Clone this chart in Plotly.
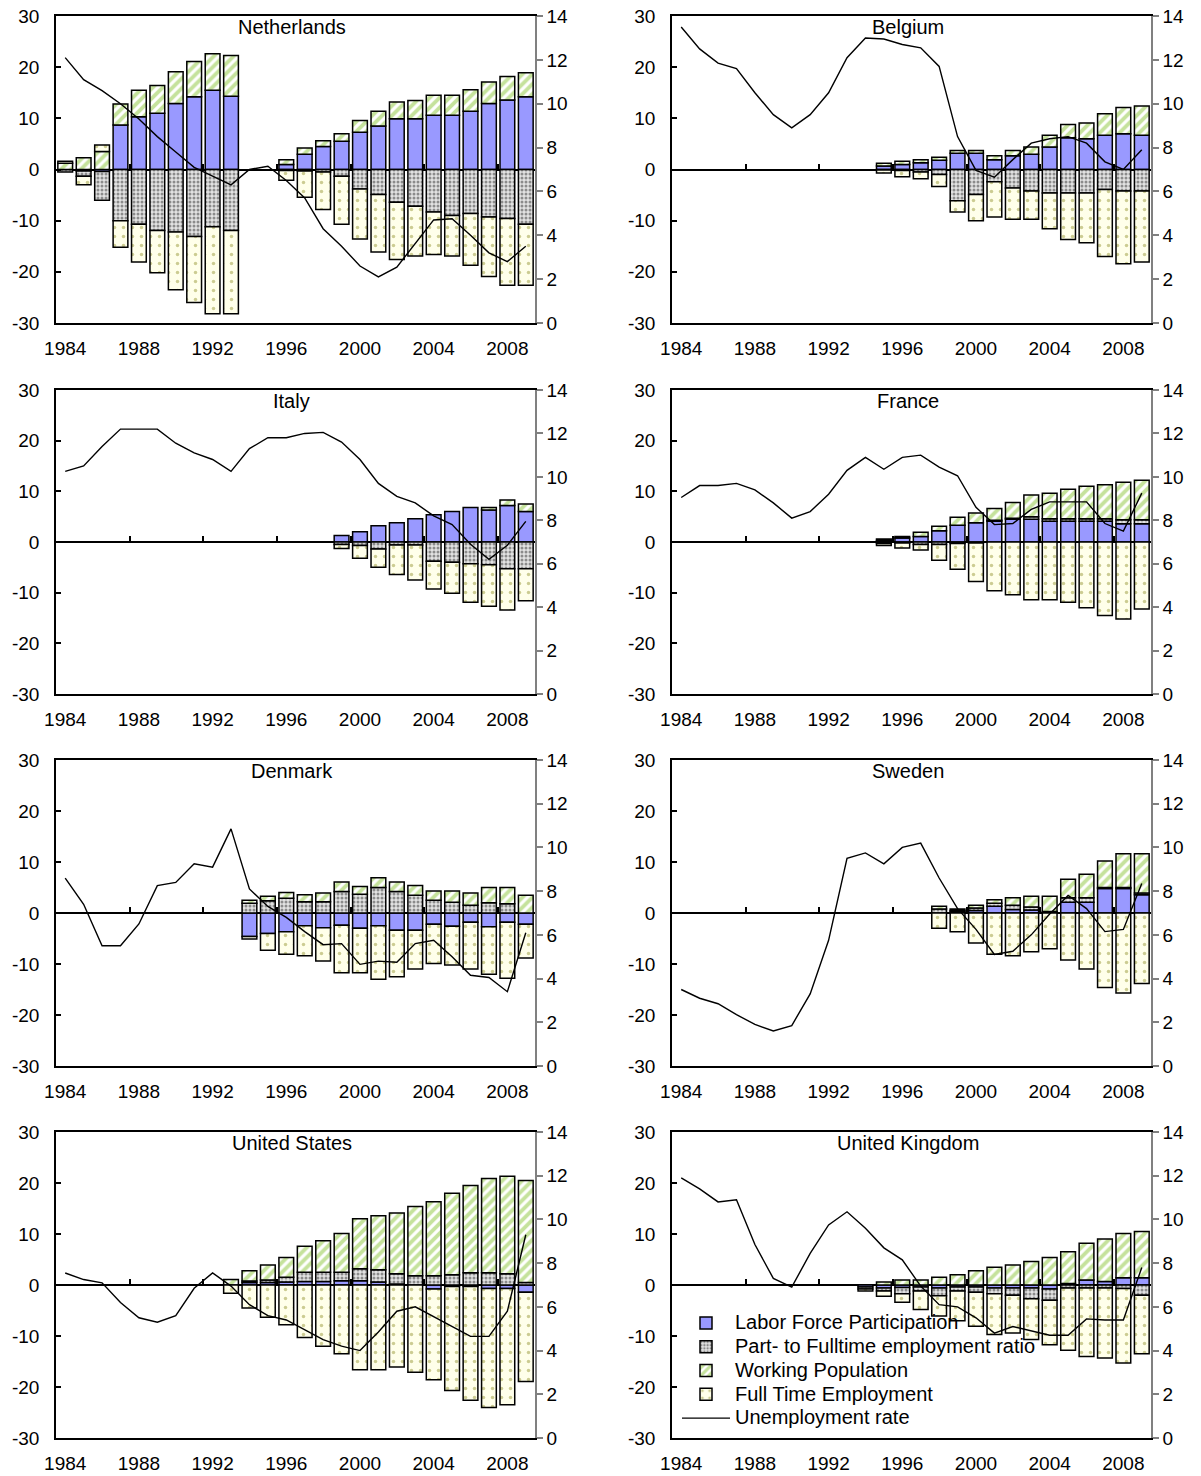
import plotly.graph_objects as go

years = list(range(1984, 2010))
tick_years = [1984, 1988, 1992, 1996, 2000, 2004, 2008]
zero_ticks = [1987.5, 1991.5, 1995.5, 1999.5, 2003.5, 2007.5]
left_tick_vals = [-30, -20, -10, 0, 10, 20, 30]
left_tick_text = ["-30", "-20", "-10", "0", "10", "20", "30"]

countries = ["Netherlands", "Belgium", "Italy", "France",
             "Denmark", "Sweden", "United States", "United Kingdom"]
series_names = ["Labor Force Participation", "Part- to Fulltime employment ratio",
                "Working Population", "Full Time Employment"]
line_name = "Unemployment rate"

# ---------------- Netherlands ----------------
nl_lfp = [None, -0.3, -0.4, 8.7, 10.3, 11.0, 12.9, 14.2, 15.5, 14.3, None, None, 1.0, 3.0, 4.5, 5.5, 7.3, 8.5, 9.9, 9.9, 10.6, 10.6, 11.4, 12.9, 13.6, 14.2]
nl_ratio = [-0.5, -1.0, -5.6, -10.0, -10.7, -11.9, -12.2, -13.1, -11.2, -11.9, None, None, -0.2, -0.3, -0.5, -1.3, -3.8, -4.9, -6.4, -7.2, -8.3, -9.0, -8.6, -9.3, -9.6, -10.7]
nl_wp = [1.2, 2.3, 3.5, 4.1, 5.2, 5.4, 6.2, 6.9, 7.1, 8.0, None, None, 0.9, 1.2, 1.1, 1.5, 2.3, 2.9, 3.3, 3.6, 3.9, 3.9, 4.2, 4.2, 4.6, 4.7]
nl_fte = [0.4, -1.7, 1.3, -5.2, -7.4, -8.3, -11.3, -12.9, -17.0, -16.3, None, None, -1.9, -5.1, -7.3, -9.4, -9.8, -11.2, -11.2, -9.7, -8.3, -7.9, -10.1, -11.6, -13.0, -11.9]
nl_unemp = [12.1, 11.1, 10.6, 10.0, 9.3, 8.5, 7.8, 7.1, 6.7, 6.3, 7.0, 7.15, 6.5, 5.7, 4.3, 3.5, 2.6, 2.1, 2.55, 3.6, 4.7, 4.75, 4.0, 3.2, 2.8, 3.5]

# ---------------- Belgium ----------------
be_lfp = [None] * 11 + [0.7, 1.0, 1.3, 1.8, 3.2, 3.2, 1.9, 2.7, 3.0, 4.4, 6.2, 6.0, 6.7, 7.0, 6.7]
be_ratio = [None] * 11 + [-0.1, -0.2, -0.5, -1.0, -6.1, -4.9, -2.4, -3.6, -4.2, -4.6, -4.6, -4.6, -3.9, -4.2, -4.2]
be_wp = [None] * 11 + [0.5, 0.6, 0.6, 0.6, 0.5, 0.5, 0.8, 1.0, 1.4, 2.3, 2.6, 3.1, 4.2, 5.1, 5.7]
be_fte = [None] * 11 + [-0.6, -1.2, -1.3, -2.3, -2.2, -5.1, -6.9, -6.1, -5.5, -7.0, -9.1, -9.7, -13.1, -14.2, -13.9]
be_unemp = [13.5, 12.5, 11.85, 11.6, 10.5, 9.5, 8.9, 9.5, 10.5, 12.1, 13.0, 12.95, 12.7, 12.55, 11.7, 8.5, 6.96, 6.65, 7.45, 8.2, 8.4, 8.5, 8.2, 7.35, 7.0, 7.9]

# ---------------- Italy ----------------
it_lfp = [None] * 15 + [1.3, 2.0, 3.2, 3.8, 4.6, 5.4, 6.0, 6.8, 6.3, 7.2, 6.0]
it_ratio = [None] * 15 + [-0.5, -0.7, -1.4, -0.6, -0.6, -3.8, -4.0, -4.3, -4.5, -5.3, -5.3]
it_wp = [None] * 15 + [None, None, None, None, None, None, None, None, 0.5, 1.1, 1.5]
it_fte = [None] * 15 + [-0.8, -2.5, -3.6, -5.8, -6.9, -5.5, -6.1, -7.6, -8.2, -8.1, -6.3]
it_unemp = [10.25, 10.5, 11.4, 12.2, 12.2, 12.2, 11.55, 11.1, 10.8, 10.25, 11.3, 11.8, 11.8, 12.0, 12.05, 11.6, 10.8, 9.7, 9.1, 8.8, 8.2, 7.8, 6.9, 6.2, 6.85, 7.95]

# ---------------- France ----------------
fr_lfp = [None] * 11 + [0.3, 0.8, 1.1, 2.2, 3.3, 3.8, 4.1, 4.5, 4.5, 4.1, 4.1, 4.1, 4.1, 3.6, 3.6]
fr_ratio = [None] * 11 + [-0.3, -0.2, -0.5, -0.5, -0.3, -0.2, 0.2, 0.2, 0.5, 0.5, 0.5, 0.5, 0.5, 0.8, 0.8]
fr_wp = [None] * 11 + [0.3, 0.3, 0.8, 0.9, 1.6, 1.9, 2.3, 3.1, 4.3, 5.0, 5.8, 6.4, 6.7, 7.4, 7.8]
fr_fte = [None] * 11 + [-0.4, -1.0, -1.1, -3.1, -5.1, -7.6, -9.6, -10.4, -11.4, -11.4, -11.9, -13.0, -14.5, -15.2, -13.2]
fr_unemp = [9.05, 9.6, 9.6, 9.7, 9.4, 8.8, 8.1, 8.4, 9.2, 10.3, 10.9, 10.35, 10.9, 11.0, 10.45, 10.05, 8.6, 7.8, 7.85, 8.5, 8.85, 8.85, 8.85, 7.85, 7.5, 9.25]

# ---------------- Denmark ----------------
dk_lfp = [None] * 10 + [-4.6, -4.0, -3.7, -2.5, -2.9, -2.4, -3.0, -2.5, -3.4, -3.4, -2.2, -2.6, -1.8, -2.7, -1.8, -2.2]
dk_ratio = [None] * 10 + [1.9, 2.4, 2.9, 2.2, 2.2, 4.2, 3.7, 5.0, 4.2, 3.5, 2.5, 2.1, 1.5, 2.0, 1.8, None]
dk_wp = [None] * 10 + [0.6, 0.9, 1.1, 1.4, 1.7, 1.9, 1.5, 1.9, 1.9, 1.9, 1.8, 2.2, 2.4, 3.0, 3.2, 3.5]
dk_fte = [None] * 10 + [-0.5, -3.3, -4.4, -5.9, -6.5, -9.3, -8.7, -10.5, -9.1, -7.6, -7.7, -7.6, -9.2, -9.3, -11.0, -6.6]
dk_unemp = [8.6, 7.4, 5.5, 5.5, 6.5, 8.25, 8.4, 9.25, 9.1, 10.85, 8.1, 7.3, 6.8, 6.15, 5.55, 5.6, 4.65, 4.8, 4.75, 5.6, 5.75, 5.0, 4.15, 4.05, 3.4, 6.1]

# ---------------- Sweden ----------------
se_lfp = [None] * 14 + [None, 0.3, 0.5, 1.3, 0.7, 0.6, 0.3, 2.1, 2.1, 4.8, 4.8, 3.6]
se_ratio = [None] * 14 + [0.8, 0.2, 0.5, 0.6, 0.8, 0.6, None, 0.9, 0.9, 0.2, 0.2, 0.3]
se_wp = [None] * 14 + [0.5, 0.3, 0.5, 0.7, 1.5, 2.1, 3.0, 3.6, 4.6, 5.2, 6.6, 7.7]
se_fte = [None] * 14 + [-3.0, -3.7, -5.9, -8.1, -8.4, -7.6, -7.0, -9.2, -11.0, -14.6, -15.7, -13.8]
se_unemp = [3.5, 3.1, 2.85, 2.35, 1.9, 1.6, 1.85, 3.3, 5.75, 9.5, 9.75, 9.25, 10.0, 10.2, 8.6, 7.2, 6.25, 5.1, 5.25, 6.0, 6.95, 7.8, 7.2, 6.15, 6.25, 8.35]

# ---------------- United States ----------------
us_lfp = [None] * 9 + [None, 0.5, 0.5, 0.6, 0.7, 0.7, 0.85, 0.85, 0.6, 0.2, None, -0.8, -0.3, -0.3, -0.7, -0.7, -1.4]
us_ratio = [None] * 9 + [None, 0.3, 0.5, 0.9, 1.8, 1.8, 1.65, 2.35, 2.4, 2.0, 1.8, 1.8, 2.0, 2.4, 2.4, 2.2, 0.5]
us_wp = [None] * 9 + [1.1, 2.0, 2.9, 3.9, 5.1, 6.2, 7.6, 9.8, 10.6, 11.9, 13.6, 14.5, 16.0, 17.1, 18.5, 19.1, 20.0]
us_fte = [None] * 9 + [-1.6, -4.5, -6.3, -7.8, -10.3, -12.0, -13.5, -16.6, -16.6, -16.1, -17.1, -17.8, -20.4, -22.3, -23.3, -22.8, -17.5]
us_unemp = [7.55, 7.25, 7.1, 6.2, 5.5, 5.3, 5.6, 6.85, 7.55, 6.95, 6.1, 5.6, 5.4, 4.95, 4.5, 4.2, 4.0, 4.85, 5.8, 6.0, 5.55, 5.1, 4.65, 4.65, 5.8, 9.3]

# ---------------- United Kingdom ----------------
uk_lfp = [None] * 10 + [-0.4, -0.6, -0.5, -0.4, -0.6, -0.4, -0.4, -0.6, -0.6, -0.6, -0.8, 0.3, 1.0, 0.7, 1.4, 1.4]
uk_ratio = [None] * 10 + [-0.4, -0.6, -1.2, -0.8, -1.5, -0.8, -1.0, -1.1, -1.4, -2.1, -2.2, -0.6, -0.6, -0.6, -0.7, -2.0]
uk_wp = [None] * 10 + [None, 0.6, 1.0, 1.0, 1.5, 2.0, 2.8, 3.5, 3.9, 4.6, 5.4, 6.2, 7.2, 8.3, 8.7, 9.1]
uk_fte = [None] * 10 + [-0.4, -1.0, -1.7, -3.6, -4.0, -5.8, -6.7, -8.0, -7.4, -8.0, -8.7, -12.2, -13.4, -13.7, -14.6, -11.5]
uk_unemp = [11.9, 11.4, 10.8, 10.9, 8.85, 7.3, 6.9, 8.45, 9.75, 10.35, 9.6, 8.7, 8.15, 6.95, 6.1, 6.0, 5.5, 4.8, 5.1, 4.9, 4.7, 4.7, 5.45, 5.4, 5.4, 7.8]

panels = [
    (nl_lfp, nl_ratio, nl_wp, nl_fte, nl_unemp),
    (be_lfp, be_ratio, be_wp, be_fte, be_unemp),
    (it_lfp, it_ratio, it_wp, it_fte, it_unemp),
    (fr_lfp, fr_ratio, fr_wp, fr_fte, fr_unemp),
    (dk_lfp, dk_ratio, dk_wp, dk_fte, dk_unemp),
    (se_lfp, se_ratio, se_wp, se_fte, se_unemp),
    (us_lfp, us_ratio, us_wp, us_fte, us_unemp),
    (uk_lfp, uk_ratio, uk_wp, uk_fte, uk_unemp),
]

# ---------------- styles ----------------
outline = dict(color="black", width=1.5)
bar_styles = [
    dict(color="#9999FF", line=outline),
    dict(color="#E2E2E2", line=outline,
         pattern=dict(shape=".", fgcolor="#333333", size=4, solidity=0.45, fillmode="overlay")),
    dict(color="white", line=outline,
         pattern=dict(shape="/", fgcolor="#8CC63A", size=7, solidity=0.55, fillmode="overlay")),
    dict(color="#FFFFEA", line=outline,
         pattern=dict(shape=".", fgcolor="#9A9A3A", size=9, solidity=0.12, fillmode="overlay")),
]

W, H = 1201, 1476
col_px = [(56, 535), (672, 1151)]
row_px = [(16, 323), (390, 694), (760, 1066), (1132, 1438)]
FONT = "Arial, Liberation Sans, sans-serif"
TICK = 19


def legend_label(text):
    return f"<span style='font-size:20px'>{text}</span>"


fig = go.Figure()
layout = dict(
    width=W, height=H, margin=dict(l=0, r=0, t=0, b=0, autoexpand=False),
    paper_bgcolor="white", plot_bgcolor="white",
    barmode="relative", bargap=0.2,
    font=dict(family=FONT, size=TICK, color="black"),
    showlegend=True,
    legend=dict(x=677 / W, y=1 - 1306 / H, xanchor="left", yanchor="top",
                bgcolor="rgba(0,0,0,0)", borderwidth=0, itemwidth=48,
                font=dict(family=FONT, size=16), tracegroupgap=0,
                traceorder="normal"),
    annotations=[],
)

for i, (lfp, ratio, wp, fte, unemp) in enumerate(panels):
    r, c = divmod(i, 2)
    x0, x1 = col_px[c]
    t0, t1 = row_px[r]
    xd = [x0 / W, x1 / W]
    yd = [1 - t1 / H, 1 - t0 / H]
    xa, ya, ya2, xz = f"x{i+1}", f"y{i+1}", f"y{i+9}", f"x{i+9}"
    show = (i == 7)
    for name, vals, st in zip(series_names, [lfp, ratio, wp, fte], bar_styles):
        fig.add_trace(go.Bar(x=years, y=vals, name=legend_label(name), marker=st,
                             xaxis=xa, yaxis=ya, showlegend=show,
                             legendgroup=name))
    fig.add_trace(go.Scatter(x=years, y=unemp, name=legend_label(line_name), mode="lines",
                             line=dict(color="black", width=1.4),
                             xaxis=xa, yaxis=ya2, showlegend=show,
                             legendgroup=line_name))
    # helper trace so the zero-line tick axis is drawn
    fig.add_trace(go.Scatter(x=[None], y=[None], xaxis=xz, yaxis=ya,
                             showlegend=False, hoverinfo="skip"))

    sfx = "" if i == 0 else str(i + 1)
    layout[f"xaxis{sfx}"] = dict(
        domain=xd, anchor=ya, range=[1983.5, 2009.5], automargin=False,
        tickvals=tick_years, ticks="", showline=True, linecolor="black",
        linewidth=1.5, mirror=True, showgrid=False, zeroline=False,
        ticklabelstandoff=7, tickfont=dict(size=TICK))
    layout[f"yaxis{sfx}"] = dict(
        domain=yd, anchor=xa, range=[-30, 30], automargin=False,
        tickvals=left_tick_vals, ticktext=left_tick_text,
        ticks="inside", ticklen=5, tickcolor="black", tickwidth=1.5,
        showline=True, linecolor="black", linewidth=1.5, showgrid=False,
        zeroline=True, zerolinecolor="black", zerolinewidth=2,
        ticklabelstandoff=11, tickfont=dict(size=TICK))
    layout[f"yaxis{i+9}"] = dict(
        overlaying=ya, anchor=xa, side="right", range=[0, 14], dtick=2,
        automargin=False,
        ticks="outside", ticklen=6, tickcolor="#808080", tickwidth=1.5,
        showline=True, linecolor="#808080", linewidth=1.5, showgrid=False,
        zeroline=False, tickfont=dict(size=TICK))
    layout[f"xaxis{i+9}"] = dict(
        overlaying=xa, anchor="free", position=(yd[0] + yd[1]) / 2, side="top",
        range=[1983.5, 2009.5], tickvals=zero_ticks, ticks="outside", ticklen=6,
        automargin=False,
        tickcolor="black", tickwidth=1.5, showticklabels=False, showline=False,
        showgrid=False, zeroline=False)
    layout["annotations"].append(dict(
        text=countries[i], xref="paper", yref="paper",
        x=(xd[0] + xd[1]) / 2 - 4 / W, y=yd[1], xanchor="center", yanchor="top",
        yshift=2, showarrow=False, font=dict(family=FONT, size=20)))

fig.update_layout(**layout)
fig.write_html("out.html")
